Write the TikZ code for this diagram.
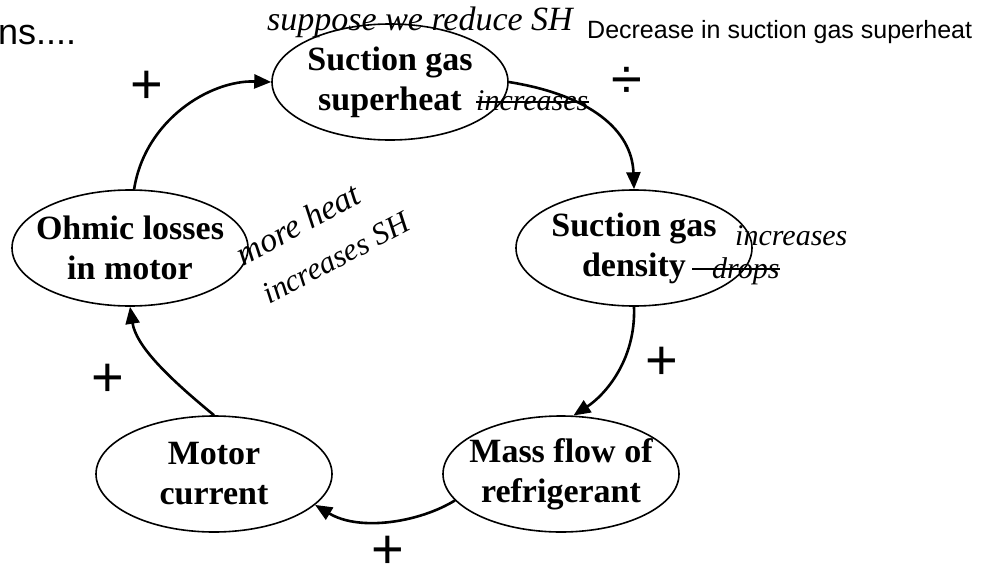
\documentclass[tikz,border=0pt]{standalone}
\usepackage{fontspec}
\setmainfont{Liberation Serif}
\setsansfont{Liberation Sans}
\usetikzlibrary{shapes.geometric,arrows.meta}

\begin{document}
\begin{tikzpicture}[x=1pt,y=-1pt,
	box/.style={draw, ellipse, line width=1.6pt, minimum width=236pt, minimum height=116pt,
		inner xsep=-15pt, inner ysep=0pt, align=center, font=\fontsize{34}{40}\selectfont\bfseries},
	link/.style={line width=2.6pt, -{Triangle[length=17pt,width=14pt]}},
	sign/.style={font=\sffamily\fontsize{56}{56}\selectfont, inner sep=0pt},
	hand/.style={font=\itshape\fontsize{30}{30}\selectfont, inner sep=0pt},
	strike/.style={line width=1.5pt}]
	\useasboundingbox (0,0) rectangle (984,578);

	% Loop elements
	\node[box] (sgs) at (390,82) {Suction gas\\superheat};
	\node[box] (dens) at (634,248) {Suction gas\\density};
	\node[box] (mass) at (561,474) {Mass flow of\\refrigerant};
	\node[box] (motor) at (214,474) {Motor\\current};
	\node[box] (ohm) at (130,248) {Ohmic losses\\in motor};

	% Links round the loop
	\draw[link] (ohm.86) .. controls (145,120) and (210,80) .. (sgs.west);
	\draw[link] (sgs.east) .. controls (590,95) and (632,130) .. (dens.north);
	\draw[link] (dens.south) .. controls (636,360) and (605,395) .. (mass.78);
	\draw[link] (mass.194) .. controls (420,522) and (360,532) .. (motor.-17);
	\draw[link] (motor.north) .. controls (165,375) and (136,345) .. (ohm.south);

	% Signs
	\node[sign] (s1) at (147,87) {+};
	\node[sign] (s2) at (627,83) {÷};
	\node[sign] (s3) at (662,363) {+};
	\node[sign] (s4) at (388,552) {+};
	\node[sign] (s5) at (108,380) {+};

	% Printed text
	\node[anchor=base west, inner sep=0pt, font=\sffamily\fontsize{36}{36}\selectfont] (cut) at (-2,45) {ns....};
	\node[anchor=base west, inner sep=0pt, font=\sffamily\fontsize{25}{25}\selectfont] (title) at (587,38) {Decrease in suction gas superheat};

	% Handwritten notes
	\node[hand, anchor=base west, font=\itshape\fontsize{34}{34}\selectfont] (note1) at (267,31) {suppose we reduce SH};
	\node[hand, anchor=base west] (old1) at (476,110) {increases};
	\draw[strike] ([yshift=8pt]old1.base west) -- ([yshift=8pt]old1.base east);
	\node[hand, rotate=28, font=\itshape\fontsize{34}{34}\selectfont] (note2) at (298,224) {more heat};
	\node[hand, rotate=28, font=\itshape\fontsize{31}{31}\selectfont] (note3) at (336,258) {increases SH};
	\node[hand, anchor=base west] (new2) at (735,245) {increases};
	\node[hand, anchor=base west] (old2) at (712,278) {drops};
	\draw[strike] ([xshift=-20pt,yshift=9pt]old2.base west) -- ([yshift=9pt]old2.base east);

\end{tikzpicture}
\end{document}
